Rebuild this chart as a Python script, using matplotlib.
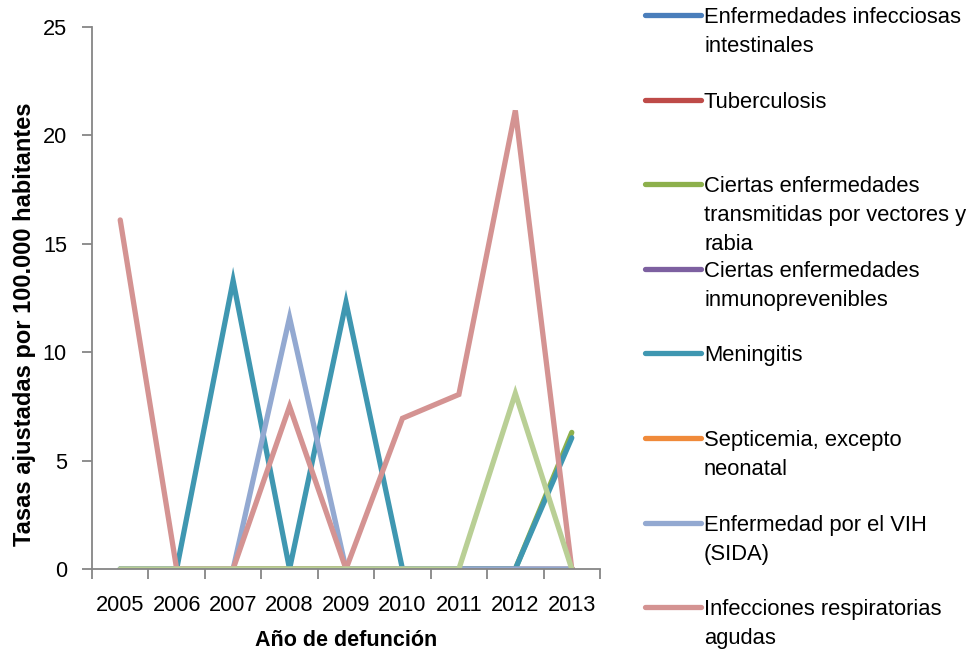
import matplotlib
matplotlib.use("Agg")
import matplotlib.pyplot as plt
from matplotlib.lines import Line2D
import numpy as np

# Tasas ajustadas por 100.000 habitantes, 2005-2013
anios = ["2005", "2006", "2007", "2008", "2009", "2010", "2011", "2012", "2013"]

intestinales = [0, 0, 0, 0, 0, 0, 0, 0, 0]
tuberculosis = [0, 0, 0, 0, 0, 0, 0, 0, 0]
vectores = [0, 0, 0, 0, 0, 0, 0, 0, 6.3]
inmunoprevenibles = [0, 0, 0, 0, 0, 0, 0, 0, 0]
meningitis = [0, 0, 13.3, 0, 12.3, 0, 0, 0, 6.05]
septicemia = [0, 0, 0, 0, 0, 0, 0, 0, 0]
vih = [0, 0, 0, 11.6, 0, 0, 0, 0, 0]
respiratorias = [16.1, 0, 0, 7.5, 0, 6.95, 8.05, 21.15, 0]
otra = [0, 0, 0, 0, 0, 0, 0, 8.1, 0]

nombres = ["Enfermedades infecciosas\nintestinales",
           "Tuberculosis",
           "Ciertas enfermedades\ntransmitidas por vectores y\nrabia",
           "Ciertas enfermedades\ninmunoprevenibles",
           "Meningitis",
           "Septicemia, excepto\nneonatal",
           "Enfermedad por el VIH\n(SIDA)",
           "Infecciones respiratorias\nagudas"]

series = [intestinales, tuberculosis, vectores, inmunoprevenibles,
          meningitis, septicemia, vih, respiratorias, otra]
colores = ["#4A7EBB", "#BE4B48", "#8DB04C", "#7D60A0", "#3F97B1",
           "#F08A3A", "#93A9D1", "#D49392", "#B9CF95"]

fuente = ["Liberation Sans", "DejaVu Sans"]

fig = plt.figure(figsize=(9.69, 6.54), dpi=100)
W, H = 969, 654
ax = fig.add_axes([92 / W, 1 - 569 / H, (600 - 92) / W, (569 - 27) / H])

x = np.arange(len(anios))
for datos, c in zip(series, colores):
    ax.plot(x, datos, color=c, lw=3.8, solid_capstyle="round",
            solid_joinstyle="miter")

ax.set_xlim(-0.5, len(anios) - 0.5)
ax.set_ylim(0, 25)
ax.set_yticks([0, 5, 10, 15, 20, 25])
ax.set_xticks(x)
ax.set_xticklabels(anios)
ax.set_xticks(np.arange(-0.5, len(anios)), minor=True)
ax.tick_params(axis="x", which="major", length=0, pad=19)
ax.tick_params(axis="x", which="minor", length=7, width=1.3, color="#868686")
ax.tick_params(axis="y", length=7, width=1.3, color="#868686", pad=11)
for lab in ax.get_xticklabels() + ax.get_yticklabels():
    lab.set_family(fuente)
    lab.set_fontsize(15.7)

for s in ["top", "right"]:
    ax.spines[s].set_visible(False)
for s in ["left", "bottom"]:
    ax.spines[s].set_color("#868686")
    ax.spines[s].set_linewidth(1.3)

ax.set_xlabel("Año de defunción", family=fuente, fontsize=15.5,
              fontweight="bold", labelpad=10)
ax.set_ylabel("Tasas ajustadas por 100.000 habitantes", family=fuente,
              fontsize=17, fontweight="bold", va="center")
ax.yaxis.set_label_coords(-0.132, 0.452)

# leyenda a la derecha, una entrada cada 84.6 px
for i, (nombre, c) in enumerate(zip(nombres, colores[:8])):
    yy = 15 + i * 84.6
    fig.add_artist(Line2D([645 / W, 701 / W], [1 - yy / H, 1 - yy / H],
                          color=c, lw=3.8, solid_capstyle="round"))
    fig.text(704 / W, 1 - (yy - 8) / H, nombre, family=fuente,
             fontsize=15.8, va="top", ha="left", linespacing=1.5)

fig.savefig("out.png", dpi=100)
